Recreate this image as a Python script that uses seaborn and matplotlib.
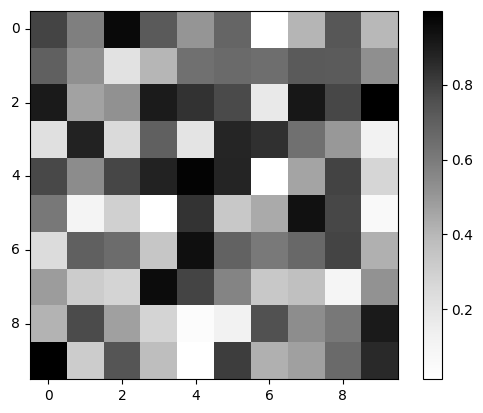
import numpy as np
import seaborn as sns
import matplotlib
matplotlib.use("Agg")
import matplotlib.pyplot as plt


# cell values, row by row
row0 = [0.790, 0.586, 0.965, 0.722, 0.506, 0.681, 0.013, 0.408, 0.729, 0.398]
row1 = [0.700, 0.526, 0.211, 0.404, 0.639, 0.662, 0.647, 0.722, 0.718, 0.530]
row2 = [0.911, 0.468, 0.524, 0.909, 0.839, 0.774, 0.174, 0.918, 0.779, 0.998]
row3 = [0.222, 0.885, 0.254, 0.701, 0.200, 0.872, 0.844, 0.640, 0.500, 0.120]
row4 = [0.775, 0.541, 0.784, 0.886, 0.984, 0.878, 0.015, 0.461, 0.791, 0.272]
row5 = [0.611, 0.103, 0.299, 0.014, 0.834, 0.334, 0.442, 0.938, 0.780, 0.062]
row6 = [0.243, 0.699, 0.655, 0.343, 0.945, 0.692, 0.609, 0.670, 0.789, 0.424]
row7 = [0.487, 0.316, 0.281, 0.958, 0.788, 0.569, 0.333, 0.369, 0.101, 0.520]
row8 = [0.417, 0.768, 0.474, 0.279, 0.038, 0.118, 0.752, 0.539, 0.612, 0.912]
row9 = [0.997, 0.318, 0.737, 0.378, 0.016, 0.807, 0.422, 0.472, 0.661, 0.861]

tick_labels = ["0", "2", "4", "6", "8"]

data = np.array([row0, row1, row2, row3, row4, row5, row6, row7, row8, row9])

fig = plt.figure(figsize=(4.83, 4.13), dpi=100)
ax = fig.add_axes([0.0607, 0.0823, 0.7648, 0.8918])
cax = fig.add_axes([0.876, 0.0823, 0.0387, 0.891])

sns.heatmap(data, cmap="Greys", square=True, ax=ax, cbar_ax=cax)

# make it look like plain imshow: frame, ticks on every other cell
for s in ax.spines.values():
    s.set_visible(True)
    s.set_linewidth(0.8)
pos = np.arange(0, 10, 2) + 0.5
ax.set_xticks(pos)
ax.set_xticklabels(tick_labels, rotation=0)
ax.set_yticks(pos)
ax.set_yticklabels(tick_labels, rotation=0)
ax.tick_params(length=3.5, width=0.8, labelsize=10)

cbar = ax.collections[0].colorbar
cbar.outline.set_visible(True)
cbar.outline.set_linewidth(0.8)
cbar.set_ticks([0.2, 0.4, 0.6, 0.8])
cbar.ax.tick_params(length=3.5, width=0.8, labelsize=10)

plt.savefig("out.png", dpi=100)
